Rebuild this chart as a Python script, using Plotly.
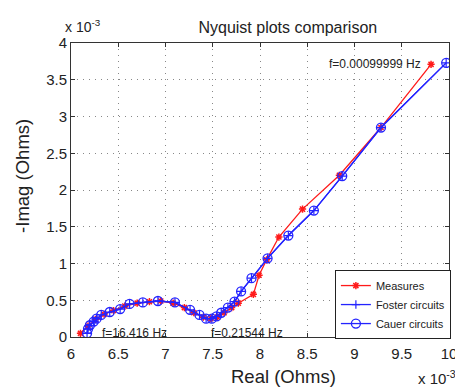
import plotly.graph_objects as go

# values in units of 1e-3 Ohms
meas_re = [6.10, 6.18, 6.26, 6.35, 6.45, 6.57, 6.70, 6.83, 6.95, 7.08, 7.20, 7.30, 7.40, 7.48,
           7.55, 7.62, 7.70, 7.77, 7.93, 7.99, 8.07, 8.20, 8.45, 8.84, 9.28, 9.81]
meas_im = [0.05, 0.15, 0.24, 0.31, 0.36, 0.42, 0.46, 0.48, 0.49, 0.46, 0.40, 0.33, 0.27, 0.25,
           0.27, 0.33, 0.40, 0.46, 0.58, 0.84, 1.05, 1.36, 1.74, 2.20, 2.85, 3.71]

fit_re = [6.17, 6.18, 6.20, 6.24, 6.27, 6.32, 6.41, 6.52, 6.62, 6.76, 6.92, 7.10, 7.26, 7.36,
          7.43, 7.49, 7.54, 7.59, 7.66, 7.73, 7.80, 7.91, 8.08, 8.30, 8.57, 8.87, 9.28, 9.97]
fit_im = [0.05, 0.11, 0.16, 0.21, 0.25, 0.30, 0.34, 0.38, 0.45, 0.47, 0.49, 0.47, 0.37, 0.30,
          0.25, 0.25, 0.28, 0.33, 0.40, 0.48, 0.62, 0.80, 1.07, 1.38, 1.72, 2.19, 2.85, 3.73]
foster_re, foster_im = fit_re, fit_im
cauer_re, cauer_im = fit_re, fit_im

x_ticks = [6, 6.5, 7, 7.5, 8, 8.5, 9, 9.5, 10]
y_ticks = [0, 0.5, 1, 1.5, 2, 2.5, 3, 3.5, 4]

FONT = "Liberation Sans, Arial, Helvetica, sans-serif"
RED = "#ff1a1a"
BLUE = "#2323ff"
TXT = "#222222"

fig = go.Figure()
fig.add_trace(go.Scatter(x=meas_re, y=meas_im, mode="lines+markers", name="Measures",
                         line=dict(color=RED, width=1.3),
                         marker=dict(symbol="asterisk-open", size=6, color=RED,
                                     line=dict(color=RED, width=1.5))))
fig.add_trace(go.Scatter(x=foster_re, y=foster_im, mode="lines+markers", name="Foster circuits",
                         line=dict(color=BLUE, width=1.3),
                         marker=dict(symbol="cross-thin-open", size=6, color=BLUE,
                                     line=dict(color=BLUE, width=1.2))))
fig.add_trace(go.Scatter(x=cauer_re, y=cauer_im, mode="lines+markers", name="Cauer circuits",
                         line=dict(color=BLUE, width=1.3),
                         marker=dict(symbol="circle-open", size=9, color=BLUE,
                                     line=dict(color=BLUE, width=1.3))))

axis_common = dict(showgrid=True, gridcolor="#888888", griddash="1px,5px", gridwidth=1.2,
                   showline=True, linecolor="#333333", linewidth=1, mirror="ticks",
                   ticks="inside", ticklen=4, tickcolor="#333333", zeroline=False,
                   automargin=False,
                   tickfont=dict(family=FONT, size=15, color=TXT))

fig.update_xaxes(range=[6, 10], tickvals=x_ticks, ticktext=[f"{v:g}" for v in x_ticks],
                 ticklabelstandoff=3, **axis_common)
fig.update_yaxes(range=[0, 4], tickvals=y_ticks, ticktext=[f"{v:g}" for v in y_ticks],
                 ticklabelstandoff=0, **axis_common)

# page body has an 8px margin: the figure is sized/placed to compensate
fig.update_layout(
    width=455, height=380,
    margin=dict(l=63, r=14, t=35, b=51),
    paper_bgcolor="white", plot_bgcolor="white",
    title=dict(text="Nyquist plots comparison", x=0.615, xanchor="center", y=0.95, yanchor="middle",
               font=dict(family=FONT, size=16, color=TXT)),
    showlegend=True,
    legend=dict(x=1.005, y=-0.007, xanchor="right", yanchor="bottom",
                bgcolor="white", bordercolor=TXT, borderwidth=1,
                font=dict(family=FONT, size=11, color=TXT),
                tracegroupgap=0, itemwidth=30),
    annotations=[
        dict(text="Real (Ohms)", xref="paper", yref="paper", x=0.561, y=-0.136,
             xanchor="center", yanchor="middle", showarrow=False,
             font=dict(family=FONT, size=18.5, color=TXT)),
        dict(text="-Imag (Ohms)", xref="paper", yref="paper", x=-0.127, y=0.548,
             xanchor="center", yanchor="middle", showarrow=False, textangle=-90,
             font=dict(family=FONT, size=18.5, color=TXT)),
        dict(text="x 10<sup>-3</sup>", xref="paper", yref="paper", x=-0.02, y=1.02,
             xanchor="left", yanchor="bottom", showarrow=False,
             font=dict(family=FONT, size=14, color=TXT)),
        dict(text="x 10<sup>-3</sup>", xref="paper", yref="paper", x=1.025, y=-0.1,
             xanchor="right", yanchor="top", showarrow=False,
             font=dict(family=FONT, size=15, color=TXT)),
        dict(text="f=0.00099999 Hz", x=meas_re[-1], y=meas_im[-1], xref="x", yref="y",
             xanchor="right", yanchor="middle", xshift=-8, showarrow=False,
             font=dict(family=FONT, size=12, color=TXT)),
        dict(text="f=16.416 Hz", x=6.31, y=0.05, xref="x", yref="y",
             xanchor="left", yanchor="middle", showarrow=False,
             font=dict(family=FONT, size=12, color=TXT)),
        dict(text="f=0.21544 Hz", x=7.46, y=0.05, xref="x", yref="y",
             xanchor="left", yanchor="middle", showarrow=False,
             font=dict(family=FONT, size=12, color=TXT)),
    ],
)

fig.write_html("out.html")
